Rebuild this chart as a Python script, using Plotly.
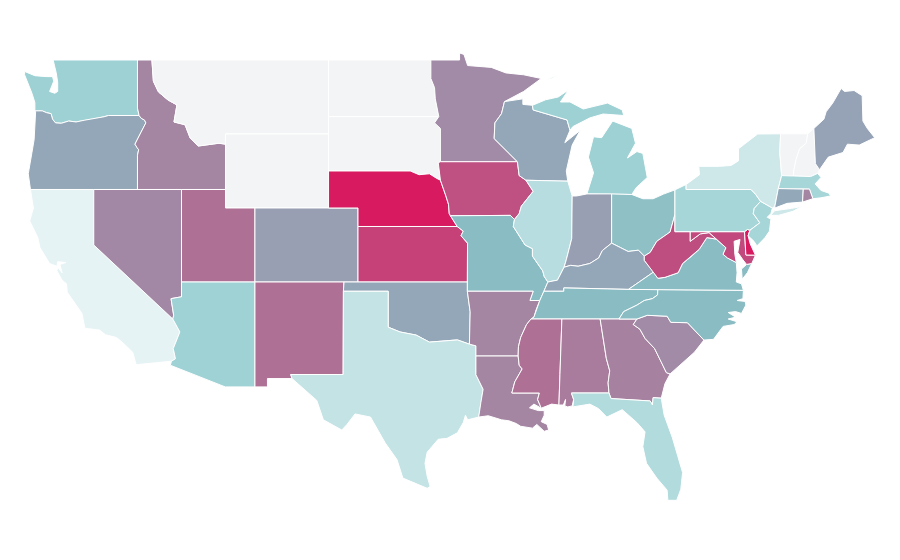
import plotly.graph_objects as go
from plotly.colors import sample_colorscale

# no topojson without network, so the state outlines are kept here as (lon, lat)
WA = [(-124.0,46.25),(-124.0,46.7),(-124.2,47.2),(-124.4,47.6),(-124.7,48.2),(-124.7,48.38),(-124.0,48.15),(-123.2,48.1),(-122.8,48.1),(-122.72,47.85),(-123.0,47.3),(-122.65,47.2),(-122.45,47.3),(-122.45,47.8),(-122.55,48.3),(-122.76,49.0),(-117.03,49.0),(-117.03,46.4),(-116.92,46.0),(-119.0,46.0),(-119.3,45.93),(-120.0,45.82),(-120.6,45.75),(-121.2,45.65),(-121.7,45.7),(-122.2,45.58),(-122.6,45.6),(-122.8,45.8),(-122.9,46.1),(-123.2,46.15),(-123.5,46.25)]
OR = [(-124.3,42.0),(-124.45,42.85),(-124.2,44.0),(-124.05,44.7),(-123.95,46.2),(-124.0,46.25),(-123.5,46.25),(-123.2,46.15),(-122.9,46.1),(-122.8,45.8),(-122.6,45.6),(-122.2,45.58),(-121.7,45.7),(-121.2,45.65),(-120.6,45.75),(-120.0,45.82),(-119.3,45.93),(-119.0,46.0),(-116.92,46.0),(-116.78,45.85),(-116.55,45.75),(-116.46,45.6),(-116.67,45.3),(-116.85,45.0),(-117.2,44.45),(-117.05,44.25),(-116.95,44.15),(-117.03,43.85),(-117.03,42.0)]
CA = [(-124.3,42.0),(-120.0,42.0),(-120.0,39.0),(-114.63,35.0),(-114.15,34.3),(-114.6,33.4),(-114.45,32.85),(-114.72,32.72),(-117.12,32.53),(-117.25,32.85),(-117.35,33.2),(-118.0,33.7),(-118.45,34.0),(-119.2,34.15),(-119.6,34.4),(-120.6,34.5),(-120.8,35.3),(-121.8,36.45),(-121.85,36.9),(-122.15,37.1),(-122.5,37.6),(-122.45,37.8),(-122.15,37.5),(-122.3,37.95),(-121.9,38.05),(-122.45,38.1),(-122.5,37.85),(-123.0,38.0),(-123.65,38.85),(-123.8,39.4),(-124.35,40.3),(-124.1,41.0)]
ID = [(-117.03,49.0),(-116.05,49.0),(-115.95,47.85),(-115.6,47.27),(-114.96,46.84),(-114.35,46.57),(-114.55,45.65),(-113.8,45.5),(-113.45,44.78),(-112.9,44.35),(-111.5,44.5),(-111.05,44.45),(-111.05,42.0),(-117.03,42.0),(-117.03,43.85),(-116.95,44.15),(-117.05,44.25),(-117.2,44.45),(-116.85,45.0),(-116.67,45.3),(-116.46,45.6),(-116.55,45.75),(-116.78,45.85),(-116.92,46.0),(-117.03,46.4)]
NV = [(-120.0,42.0),(-114.04,42.0),(-114.04,36.2),(-114.75,36.1),(-114.57,35.2),(-114.63,35.0),(-120.0,39.0)]
MT = [(-116.05,49.0),(-104.05,49.0),(-104.05,45.0),(-111.05,45.0),(-111.05,44.45),(-111.5,44.5),(-112.9,44.35),(-113.45,44.78),(-113.8,45.5),(-114.55,45.65),(-114.35,46.57),(-114.96,46.84),(-115.6,47.27),(-115.95,47.85)]
WY = [(-111.05,45.0),(-104.05,45.0),(-104.05,41.0),(-111.05,41.0)]
UT = [(-114.04,42.0),(-111.05,42.0),(-111.05,41.0),(-109.05,41.0),(-109.05,37.0),(-114.04,37.0)]
AZ = [(-114.04,37.0),(-109.05,37.0),(-109.05,31.33),(-111.07,31.33),(-114.8,32.5),(-114.72,32.72),(-114.45,32.85),(-114.6,33.4),(-114.15,34.3),(-114.63,35.0),(-114.57,35.2),(-114.75,36.1),(-114.04,36.2)]
CO = [(-109.05,41.0),(-102.05,41.0),(-102.05,37.0),(-109.05,37.0)]
NM = [(-109.05,37.0),(-103.0,37.0),(-103.04,36.5),(-103.06,32.0),(-106.62,32.0),(-106.53,31.78),(-108.2,31.78),(-108.2,31.33),(-109.05,31.33)]
ND = [(-104.05,49.0),(-97.1,49.0),(-97.1,48.0),(-96.85,47.5),(-96.8,46.9),(-96.56,45.94),(-104.05,45.94)]
SD = [(-104.05,45.94),(-96.56,45.94),(-96.85,45.6),(-96.45,45.3),(-96.45,43.5),(-96.6,43.45),(-96.45,42.5),(-96.7,42.6),(-97.2,42.85),(-97.9,42.8),(-98.5,43.0),(-104.05,43.0)]
NE = [(-104.05,43.0),(-98.5,43.0),(-97.9,42.8),(-97.2,42.85),(-96.7,42.6),(-96.45,42.5),(-96.1,41.7),(-95.9,41.2),(-95.85,40.7),(-95.77,40.58),(-95.31,40.0),(-102.05,40.0),(-102.05,41.0),(-104.05,41.0)]
KS = [(-102.05,40.0),(-95.31,40.0),(-94.9,39.75),(-95.05,39.5),(-94.61,39.1),(-94.62,37.0),(-102.05,37.0)]
OK = [(-103.0,37.0),(-94.62,37.0),(-94.62,36.5),(-94.43,35.39),(-94.48,33.64),(-95.3,33.87),(-96.4,33.8),(-97.2,33.75),(-98.1,34.13),(-99.2,34.3),(-100.0,34.56),(-100.0,36.5),(-103.04,36.5)]
TX = [(-103.04,36.5),(-100.0,36.5),(-100.0,34.56),(-99.2,34.3),(-98.1,34.13),(-97.2,33.75),(-96.4,33.8),(-95.3,33.87),(-94.48,33.64),(-94.04,33.55),(-94.04,33.0),(-94.04,31.99),(-93.55,31.2),(-93.7,30.5),(-93.85,29.7),(-94.6,29.55),(-94.75,29.8),(-94.9,29.4),(-95.3,28.85),(-96.0,28.55),(-96.6,28.5),(-97.35,27.8),(-97.5,27.2),(-97.35,26.5),(-97.15,25.95),(-97.35,25.85),(-99.0,26.4),(-99.4,27.4),(-100.2,28.3),(-101.2,29.7),(-102.25,29.87),(-102.8,29.3),(-103.15,29.0),(-104.4,29.55),(-104.85,30.6),(-106.53,31.78),(-106.62,32.0),(-103.06,32.0)]
MN = [(-97.1,49.0),(-95.15,49.0),(-95.15,49.38),(-94.85,49.3),(-94.6,48.7),(-93.0,48.6),(-92.0,48.3),(-90.8,48.2),(-89.6,48.0),(-90.8,47.3),(-92.1,46.75),(-92.3,46.1),(-92.75,45.6),(-92.8,44.75),(-91.22,43.5),(-96.45,43.5),(-96.45,45.3),(-96.85,45.6),(-96.56,45.94),(-96.8,46.9),(-96.85,47.5),(-97.1,48.0)]
IA = [(-96.45,43.5),(-91.22,43.5),(-91.1,42.75),(-90.64,42.5),(-90.15,41.9),(-90.95,41.1),(-91.1,40.7),(-91.42,40.38),(-91.7,40.6),(-95.77,40.58),(-95.85,40.7),(-95.9,41.2),(-96.1,41.7),(-96.45,42.5),(-96.6,43.45)]
MO = [(-95.77,40.58),(-91.7,40.6),(-91.42,40.38),(-91.5,40.0),(-90.7,39.0),(-90.2,38.8),(-90.2,38.4),(-89.5,37.6),(-89.4,37.3),(-89.15,37.0),(-89.42,36.5),(-89.7,36.0),(-90.37,36.0),(-90.15,36.5),(-94.62,36.5),(-94.62,37.0),(-94.61,39.1),(-95.05,39.5),(-94.9,39.75),(-95.31,40.0)]
AR = [(-94.62,36.5),(-90.15,36.5),(-90.37,36.0),(-89.7,36.0),(-89.95,35.5),(-90.1,35.1),(-90.3,35.0),(-90.6,34.7),(-91.0,34.0),(-91.15,33.5),(-91.17,33.0),(-94.04,33.0),(-94.04,33.55),(-94.48,33.64),(-94.43,35.39)]
LA = [(-94.04,33.0),(-91.17,33.0),(-91.1,32.5),(-90.9,32.3),(-91.4,31.6),(-91.6,31.0),(-89.73,31.0),(-89.85,30.65),(-89.6,30.18),(-90.1,30.4),(-90.4,30.2),(-89.8,30.05),(-89.4,30.05),(-89.4,29.8),(-89.6,29.45),(-89.2,29.3),(-89.1,29.0),(-89.4,28.93),(-89.9,29.3),(-90.2,29.1),(-91.0,29.2),(-91.3,29.35),(-91.8,29.5),(-92.3,29.55),(-93.2,29.77),(-93.85,29.7),(-93.7,30.5),(-93.55,31.2),(-94.04,31.99)]
WI = [(-92.1,46.75),(-90.85,46.9),(-90.85,46.6),(-90.2,46.55),(-90.15,46.3),(-87.85,45.76),(-87.65,45.2),(-88.0,44.53),(-86.95,45.2),(-87.5,44.4),(-87.9,43.0),(-87.8,42.45),(-90.64,42.5),(-91.1,42.75),(-91.22,43.5),(-92.8,44.75),(-92.75,45.6),(-92.3,46.1)]
IL = [(-90.64,42.5),(-87.8,42.45),(-87.5,41.65),(-87.53,39.35),(-87.9,38.2),(-88.05,37.8),(-88.5,37.1),(-89.15,37.0),(-89.4,37.3),(-89.5,37.6),(-90.2,38.4),(-90.2,38.8),(-90.7,39.0),(-91.5,40.0),(-91.42,40.38),(-91.1,40.7),(-90.95,41.1),(-90.15,41.9)]
MI = [(-90.2,46.55),(-89.3,46.85),(-88.45,47.0),(-87.75,47.38),(-88.3,46.73),(-87.65,46.73),(-86.75,46.35),(-85.1,46.67),(-84.1,46.3),(-84.0,46.0),(-85.4,46.08),(-86.3,45.87),(-87.45,45.4),(-87.65,45.2),(-87.85,45.76),(-90.15,46.3),(None,None),
      (-86.5,41.76),(-84.82,41.76),(-83.45,41.73),(-83.15,42.1),(-82.4,42.65),(-82.7,43.95),(-83.1,44.05),(-83.75,43.7),(-83.2,44.5),(-83.45,45.3),(-84.75,45.7),(-85.5,44.8),(-86.05,44.85),(-86.4,43.75),(-86.05,42.9),(None,None),
      (-89.2,47.95),(-88.5,48.2),(-88.9,48.0)]
IN = [(-87.5,41.65),(-87.2,41.65),(-86.5,41.76),(-84.82,41.76),(-84.82,39.1),(-85.45,38.7),(-85.7,38.3),(-86.3,38.0),(-87.1,37.85),(-87.6,37.9),(-88.05,37.8),(-87.9,38.2),(-87.53,39.35)]
OH = [(-84.82,41.76),(-83.45,41.73),(-82.7,41.5),(-82.0,41.5),(-81.3,41.75),(-80.52,41.98),(-80.52,40.64),(-80.85,39.7),(-81.75,39.2),(-82.2,38.6),(-82.6,38.4),(-83.0,38.72),(-83.7,38.65),(-84.2,38.85),(-84.82,39.1)]
KY = [(-89.42,36.5),(-88.07,36.5),(-88.07,36.68),(-83.68,36.6),(-82.95,37.0),(-81.97,37.54),(-82.6,38.17),(-82.6,38.4),(-83.0,38.72),(-83.7,38.65),(-84.2,38.85),(-84.82,39.1),(-85.45,38.7),(-85.7,38.3),(-86.3,38.0),(-87.1,37.85),(-87.6,37.9),(-88.05,37.8),(-88.5,37.1),(-89.15,37.0)]
TN = [(-90.3,35.0),(-88.2,35.0),(-85.6,35.0),(-84.32,35.0),(-84.0,35.4),(-83.1,35.75),(-82.6,36.0),(-82.05,36.1),(-81.7,36.3),(-81.68,36.59),(-83.68,36.6),(-88.07,36.68),(-88.07,36.5),(-89.42,36.5),(-89.7,36.0),(-89.95,35.5),(-90.1,35.1)]
MS = [(-90.3,35.0),(-88.2,35.0),(-88.33,32.0),(-88.4,30.35),(-88.9,30.4),(-89.6,30.18),(-89.85,30.65),(-89.73,31.0),(-91.6,31.0),(-91.4,31.6),(-90.9,32.3),(-91.1,32.5),(-91.17,33.0),(-91.15,33.5),(-91.0,34.0),(-90.6,34.7)]
AL = [(-88.2,35.0),(-85.6,35.0),(-85.18,32.87),(-84.95,32.2),(-85.06,31.55),(-85.0,31.0),(-87.55,31.0),(-87.4,30.65),(-87.5,30.3),(-87.8,30.25),(-88.0,30.3),(-87.95,30.65),(-88.1,30.35),(-88.4,30.35),(-88.33,32.0)]
GA = [(-85.6,35.0),(-83.1,35.0),(-83.35,34.7),(-82.9,34.45),(-82.55,33.95),(-81.9,33.4),(-81.4,32.6),(-81.1,32.1),(-80.85,32.03),(-81.2,31.5),(-81.45,30.72),(-82.0,30.75),(-82.05,30.35),(-82.2,30.57),(-84.86,30.7),(-85.0,31.0),(-85.06,31.55),(-84.95,32.2),(-85.18,32.87)]
FL = [(-87.55,31.0),(-85.0,31.0),(-84.86,30.7),(-82.2,30.57),(-82.05,30.35),(-82.0,30.75),(-81.45,30.72),(-81.25,29.8),(-80.7,28.6),(-80.0,26.7),(-80.12,25.8),(-80.4,25.2),(-81.0,25.2),(-81.05,25.75),(-81.75,26.4),(-82.45,27.2),(-82.7,28.1),(-82.55,28.9),(-83.1,29.4),(-84.1,30.1),(-85.15,29.7),(-85.7,30.15),(-86.3,30.4),(-87.45,30.25),(-87.4,30.65)]
SC = [(-83.1,35.0),(-82.4,35.2),(-81.05,35.15),(-80.8,34.82),(-79.67,34.8),(-78.55,33.86),(-79.2,33.2),(-79.9,32.7),(-80.85,32.03),(-81.1,32.1),(-81.4,32.6),(-81.9,33.4),(-82.55,33.95),(-82.9,34.45),(-83.35,34.7)]
NC = [(-84.32,35.0),(-83.1,35.0),(-82.4,35.2),(-81.05,35.15),(-80.8,34.82),(-79.67,34.8),(-78.55,33.86),(-77.9,33.9),(-77.25,34.6),(-76.5,34.7),(-76.3,34.85),(-76.9,35.0),(-76.4,35.1),(-76.9,35.35),(-76.4,35.4),(-76.0,35.3),(-75.7,35.75),(-75.75,35.95),(-76.3,36.0),(-75.9,36.1),(-75.87,36.55),(-81.68,36.59),(-81.7,36.3),(-82.05,36.1),(-82.6,36.0),(-83.1,35.75),(-84.0,35.4)]
VA = [(-83.68,36.6),(-81.68,36.59),(-75.87,36.55),(-76.0,36.9),(-76.35,37.0),(-76.3,37.5),(-76.35,38.05),(-76.95,38.3),(-77.25,38.5),(-77.05,38.85),(-77.72,39.32),(-78.35,39.4),(-78.87,38.77),(-79.3,38.45),(-80.0,38.0),(-80.3,37.5),(-81.2,37.25),(-81.68,37.2),(-81.97,37.54),(-82.95,37.0),(None,None),
      (-75.95,37.15),(-76.0,37.7),(-75.65,37.95),(-75.3,38.0),(-75.6,37.5)]
WV = [(-82.6,38.17),(-81.97,37.54),(-81.68,37.2),(-81.2,37.25),(-80.3,37.5),(-80.0,38.0),(-79.3,38.45),(-78.87,38.77),(-78.35,39.4),(-77.72,39.32),(-78.2,39.67),(-78.8,39.6),(-79.48,39.2),(-79.48,39.72),(-80.52,39.72),(-80.52,40.64),(-80.85,39.7),(-81.75,39.2),(-82.2,38.6),(-82.6,38.4)]
MD = [(-79.48,39.72),(-75.79,39.72),(-75.7,38.46),(-75.05,38.45),(-75.3,38.0),(-75.65,37.95),(-75.9,38.2),(-76.25,38.6),(-76.1,39.3),(-76.5,39.2),(-76.45,38.5),(-76.35,38.05),(-76.95,38.3),(-77.25,38.5),(-77.05,38.85),(-77.72,39.32),(-78.2,39.67),(-78.8,39.6),(-79.48,39.2)]
DE = [(-75.79,39.72),(-75.6,39.84),(-75.42,39.8),(-75.55,39.5),(-75.4,39.05),(-75.05,38.45),(-75.7,38.46)]
PA = [(-80.52,41.98),(-79.76,42.27),(-79.76,42.0),(-75.35,42.0),(-75.05,41.75),(-74.7,41.36),(-75.13,40.98),(-75.2,40.7),(-74.75,40.2),(-75.42,39.8),(-75.6,39.84),(-75.79,39.72),(-80.52,39.72)]
NJ = [(-74.7,41.36),(-73.9,41.0),(-74.0,40.7),(-74.25,40.5),(-74.0,40.4),(-74.1,39.75),(-74.4,39.4),(-74.95,38.95),(-75.15,39.2),(-75.55,39.5),(-75.42,39.8),(-74.75,40.2),(-75.2,40.7),(-75.13,40.98)]
NY = [(-79.76,42.27),(-79.76,42.0),(-75.35,42.0),(-75.05,41.75),(-74.7,41.36),(-73.9,41.0),(-73.73,41.1),(-73.5,42.05),(-73.27,42.75),(-73.35,43.6),(-73.4,44.0),(-73.34,45.01),(-74.9,45.0),(-75.8,44.45),(-76.2,44.2),(-76.2,43.55),(-76.7,43.3),(-77.5,43.25),(-78.9,43.25),(-78.85,42.8),(None,None),
      (-74.03,40.6),(-73.75,40.85),(-72.6,40.98),(-71.9,41.08),(-72.5,40.82),(-73.5,40.6)]
VT = [(-73.34,45.01),(-71.5,45.01),(-71.6,44.5),(-72.05,44.2),(-72.3,43.6),(-72.45,43.0),(-72.46,42.73),(-73.27,42.75),(-73.35,43.6),(-73.4,44.0)]
NH = [(-71.5,45.01),(-71.08,45.3),(-70.98,43.4),(-70.7,43.07),(-70.82,42.87),(-71.3,42.7),(-72.46,42.73),(-72.45,43.0),(-72.3,43.6),(-72.05,44.2),(-71.6,44.5)]
ME = [(-71.08,45.3),(-70.4,45.8),(-70.25,46.2),(-69.8,46.67),(-69.23,47.46),(-69.0,47.3),(-68.35,47.35),(-67.8,47.07),(-67.75,45.7),(-67.45,45.3),(-66.95,44.8),(-68.0,44.4),(-68.8,44.45),(-69.1,44.0),(-70.1,43.75),(-70.7,43.07),(-70.98,43.4)]
MA = [(-73.5,42.05),(-73.27,42.75),(-72.46,42.73),(-71.3,42.7),(-70.82,42.87),(-70.6,42.65),(-71.0,42.3),(-70.6,41.95),(-70.05,41.8),(-69.95,41.65),(-70.6,41.55),(-71.15,41.5),(-71.38,42.02),(-71.8,42.02)]
CT = [(-73.5,42.05),(-71.8,42.02),(-71.85,41.32),(-72.9,41.25),(-73.73,41.0),(-73.73,41.1)]
RI = [(-71.8,42.02),(-71.38,42.02),(-71.15,41.5),(-71.85,41.32)]

states = ["WA","OR","CA","ID","NV","MT","WY","UT","AZ","CO","NM","ND","SD","NE","KS","OK","TX","MN","IA","MO","AR","LA","WI","IL","MI","IN","OH","KY","TN","MS","AL","GA","FL","SC","NC","VA","WV","MD","DE","PA","NJ","NY","VT","NH","ME","MA","CT","RI"]
outlines = [WA,OR,CA,ID,NV,MT,WY,UT,AZ,CO,NM,ND,SD,NE,KS,OK,TX,MN,IA,MO,AR,LA,WI,IL,MI,IN,OH,KY,TN,MS,AL,GA,FL,SC,NC,VA,WV,MD,DE,PA,NJ,NY,VT,NH,ME,MA,CT,RI]
values = [0.25,0.45,0.04,0.58,0.57,0,0,0.665,0.245,0.48,0.665,0,0,1.0,0.85,0.45,0.14,0.56,0.79,0.35,0.58,0.58,0.45,0.175,0.25,0.48,0.33,0.45,0.35,0.665,0.62,0.6,0.19,0.56,0.35,0.35,0.8,0.82,1.0,0.22,0.22,0.11,0,0,0.47,0.22,0.44,0.58]

scale = [[0,"#f3f4f6"],[0.04,"#e6f3f5"],[0.25,"#9dd1d4"],[0.35,"#8abcc3"],[0.45,"#94a7b8"],[1,"#d81b60"]]
colors = sample_colorscale(scale, values)


def closed(outline):
    # close every part by itself, otherwise a stray line runs back to the first point
    xs, ys, start = [], [], None
    for lon, lat in outline + [(None, None)]:
        if lon is None:
            xs += [start[0], None]
            ys += [start[1], None]
            start = None
            continue
        if start is None:
            start = (lon, lat)
        xs.append(lon)
        ys.append(lat)
    return xs, ys


fig = go.Figure()
for name, outline, color in zip(states, outlines, colors):
    xs, ys = closed(outline)
    fig.add_trace(go.Scatter(x=xs, y=ys, mode="lines", fill="toself", fillcolor=color,
                             line=dict(color="white", width=1),
                             name=name, hoverinfo="name"))

fig.update_xaxes(range=[-125.826, -64.687], visible=False)
fig.update_yaxes(range=[21.541, 51.81], visible=False)
fig.update_layout(width=900, height=560, margin=dict(l=0, r=0, t=0, b=0),
                  paper_bgcolor="white", plot_bgcolor="white", showlegend=False)
fig.write_html("out.html")
